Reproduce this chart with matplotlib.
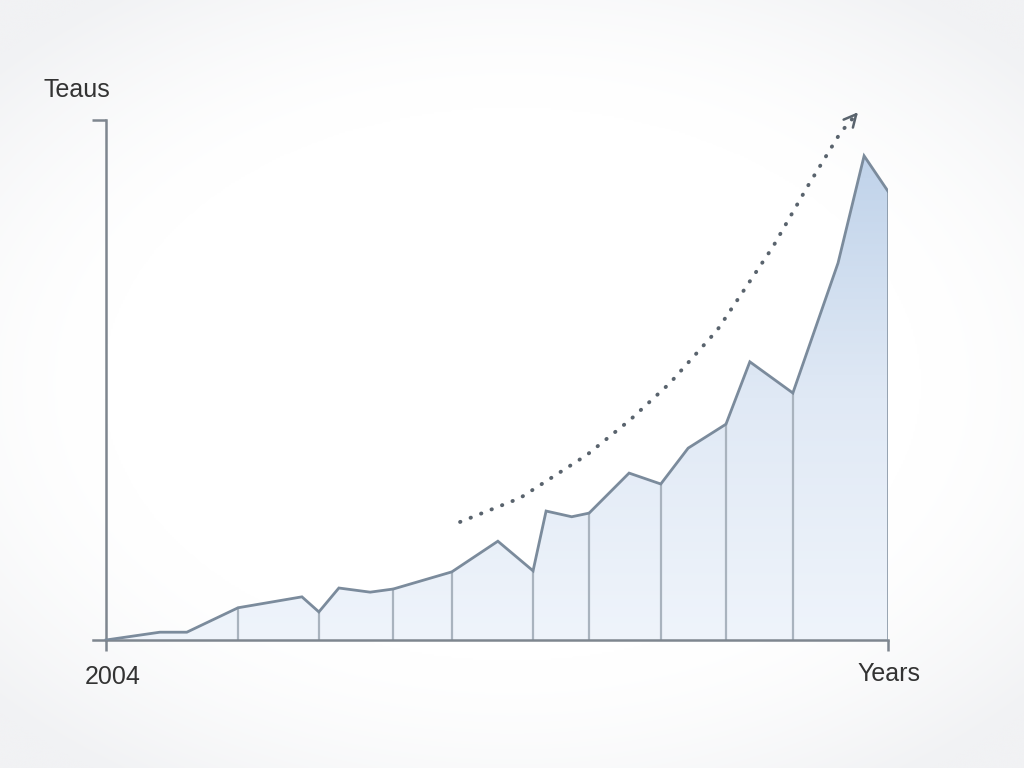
import numpy as np
import matplotlib
matplotlib.use("Agg")
import matplotlib.pyplot as plt
from matplotlib.patches import Polygon
from matplotlib.colors import LinearSegmentedColormap

# ---- data ----
years = [2004.0, 2005.24, 2005.86, 2007.04, 2008.51, 2008.90, 2009.36, 2010.08,
         2010.61, 2011.96, 2013.02, 2013.83, 2014.13, 2014.72, 2015.12, 2016.04,
         2016.77, 2017.40, 2018.27, 2018.82, 2019.81, 2020.85, 2021.45, 2022.0]
values = [0.0, 1.5, 1.5, 6.2, 8.3, 5.4, 10.0, 9.2,
          9.8, 13.1, 19.0, 13.3, 24.8, 23.7, 24.4, 32.1,
          30.0, 36.9, 41.5, 53.5, 47.5, 72.5, 93.1, 86.3]
divider_years = [2007.04, 2008.90, 2010.61, 2011.96, 2013.83, 2015.12,
                 2016.77, 2018.27, 2019.81]
trend_years = [2012.15, 2013.53, 2015.07, 2016.06, 2016.98, 2018.07,
               2019.35, 2020.14, 2020.90, 2021.31]
trend_values = [22.7, 27.3, 35.6, 42.3, 49.4, 59.6, 75.6, 87.1, 97.5, 101.5]
tick_labels = ["2004", "Years"]
y_label = "Teaus"

plt.rcParams['font.family'] = ['Liberation Sans', 'DejaVu Sans']

fig = plt.figure(figsize=(10.24, 7.68), dpi=100)
fig.patch.set_facecolor('#fdfdfe')

# subtle vignette background
bg = fig.add_axes([0, 0, 1, 1], zorder=-10)
yy, xx = np.mgrid[-1:1:400j, -1:1:520j]
r = np.clip((np.sqrt(xx ** 2 * 0.9 + yy ** 2 * 1.1) - 0.75) / 0.55, 0, 1) ** 1.5
bg.imshow(r, cmap=LinearSegmentedColormap.from_list('v', ['#ffffff', '#f1f2f4']),
          extent=[0, 1, 0, 1], aspect='auto', vmin=0, vmax=1, interpolation='bicubic')
bg.set_axis_off()

ax = fig.add_axes([93/1024, 1 - 640/768, (888 - 93)/1024, (640 - 120)/768])
ax.set_facecolor('none')
x0 = years[0]
x1 = years[-1]
xpad = (x1 - x0) * 13 / 782
ax.set_xlim(x0 - xpad, x1)
ax.set_ylim(0, 100)

# gradient fill clipped to the area
verts = [(x0, 0)] + list(zip(years, values)) + [(x1, 0)]
poly = Polygon(verts, closed=True, facecolor='none', edgecolor='none')
ax.add_patch(poly)
grad = np.linspace(0, 1, 256).reshape(-1, 1)
cmap = LinearSegmentedColormap.from_list('g', ['#eff4fb', '#e0e9f5', '#c0d3ea'])
im = ax.imshow(grad, cmap=cmap, extent=[x0, x1, 0, max(values)], origin='lower',
               aspect='auto', zorder=1)
im.set_clip_path(poly)

# dividers
for d in divider_years:
    ax.plot([d, d], [0, np.interp(d, years, values)], color='#a9b3be', lw=1.6, zorder=2)
ax.plot([x1, x1], [0, values[-1]], color='#7f8d9c', lw=1.8, zorder=3)

# outline
ax.plot(years, values, color='#7b8b9c', lw=2.0, zorder=3, solid_joinstyle='miter')

# dotted trend arrow
ax.plot(trend_years, trend_values, linestyle=(0, (0.1, 2.8)), dash_capstyle='round',
        color='#59636d', lw=2.8, zorder=4, clip_on=False)
tx, ty = trend_years[-1], trend_values[-1]
dx, dy = tx - trend_years[-2], ty - trend_values[-2]
ax.annotate('', xy=(tx, ty), xytext=(tx - dx * 0.15, ty - dy * 0.15),
            arrowprops=dict(arrowstyle='->', color='#59636d', lw=1.8,
                            mutation_scale=22, shrinkA=0, shrinkB=0),
            annotation_clip=False, zorder=4)

# spines
for s in ['top', 'right']:
    ax.spines[s].set_visible(False)
ax.spines['left'].set_position(('data', x0))
ax.spines['left'].set_color('#7e868f')
ax.spines['bottom'].set_color('#7e868f')
ax.spines['left'].set_linewidth(1.8)
ax.spines['bottom'].set_linewidth(1.8)
ax.set_yticks([100])
ax.set_yticklabels([''])
ax.tick_params(axis='y', length=10, width=1.8, color='#7e868f', direction='out')
ax.set_xticks([x0, x1])
ax.set_xticklabels(['', ''])
ax.tick_params(axis='x', length=8, width=1.8, color='#7e868f', direction='out')

# labels
ax.annotate(tick_labels[0], xy=(x0, 0), xytext=(7, -25), textcoords='offset pixels',
            ha='center', va='top', fontsize=18, color='#333333', annotation_clip=False)
ax.annotate(tick_labels[1], xy=(x1, 0), xytext=(1, -22), textcoords='offset pixels',
            ha='center', va='top', fontsize=18, color='#333333', annotation_clip=False)
fig.text(43/1024, 1 - 97/768, y_label, ha='left', va='baseline', fontsize=18, color='#333333')

fig.savefig('out.png', dpi=100, facecolor=fig.get_facecolor())
